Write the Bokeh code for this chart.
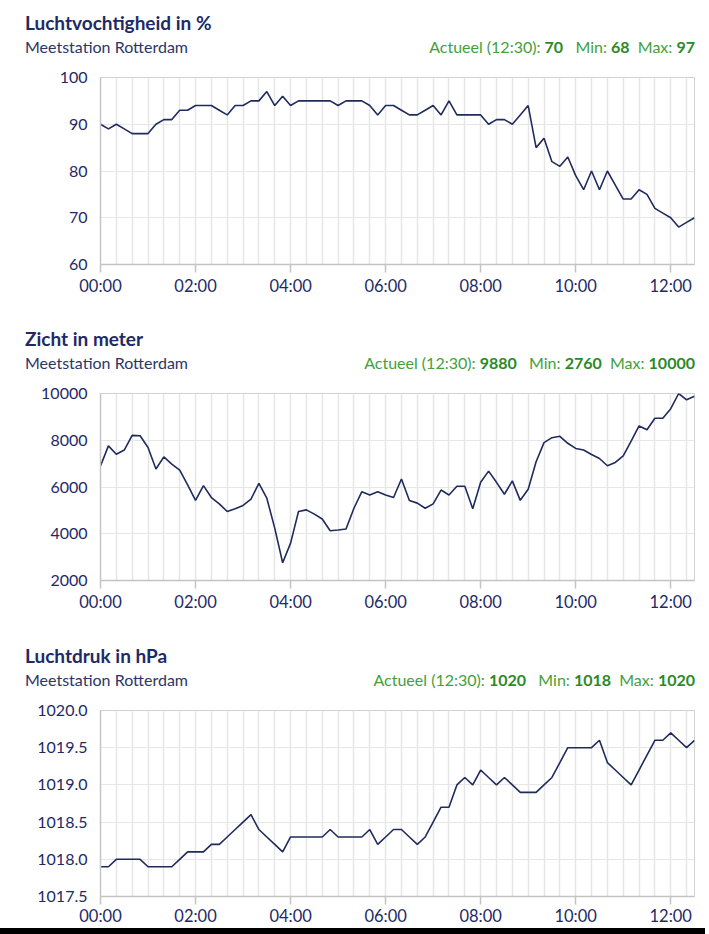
from bokeh.plotting import figure
from bokeh.models import Div, FixedTicker, NumeralTickFormatter, Range1d
from bokeh.layouts import column
from bokeh.embed import file_html
from bokeh.resources import INLINE

# ---------------- data ----------------
station = "Meetstation Rotterdam"
current_time = "12:30"

# readings every 10 minutes from 00:00 to 12:30
minutes = list(range(0, 760, 10))

tick_minutes = [0, 120, 240, 360, 480, 600, 720]
tick_labels = ["00:00", "02:00", "04:00", "06:00", "08:00", "10:00", "12:00"]
grid_minutes = list(range(0, 760, 20))

humidity_title = "Luchtvochtigheid in %"
humidity = [90, 89, 90, 89, 88, 88, 88, 90, 91, 91, 93, 93, 94, 94, 94, 93,
            92, 94, 94, 95, 95, 97, 94, 96, 94, 95, 95, 95, 95, 95, 94, 95,
            95, 95, 94, 92, 94, 94, 93, 92, 92, 93, 94, 92, 95, 92, 92, 92,
            92, 90, 91, 91, 90, 92, 94, 85, 87, 82, 81, 83, 79, 76, 80, 76,
            80, 77, 74, 74, 76, 75, 72, 71, 70, 68, 69, 70]
humidity_stats = ("70", "68", "97")
humidity_ticks = [60, 70, 80, 90, 100]

visibility_title = "Zicht in meter"
visibility = [6900, 7760, 7400, 7580, 8210, 8190, 7690, 6770, 7290, 6980,
              6720, 6090, 5430, 6060, 5550, 5280, 4950, 5070, 5210, 5480,
              6160, 5520, 4240, 2760, 3600, 4950, 5020, 4840, 4630, 4130,
              4160, 4200, 5090, 5800, 5660, 5800, 5660, 5550, 6340, 5420,
              5310, 5090, 5280, 5870, 5660, 6030, 6030, 5070, 6200, 6680,
              6200, 5690, 6260, 5430, 5900, 7080, 7900, 8110, 8170, 7870,
              7650, 7580, 7390, 7220, 6910, 7050, 7330, 7960, 8610, 8450,
              8940, 8940, 9350, 10000, 9730, 9880]
visibility_stats = ("9880", "2760", "10000")
visibility_ticks = [2000, 4000, 6000, 8000, 10000]

pressure_title = "Luchtdruk in hPa"
pressure = [1017.9, 1017.9, 1018.0, 1018.0, 1018.0, 1018.0, 1017.9, 1017.9,
            1017.9, 1017.9, 1018.0, 1018.1, 1018.1, 1018.1, 1018.2, 1018.2,
            1018.3, 1018.4, 1018.5, 1018.6, 1018.4, 1018.3, 1018.2, 1018.1,
            1018.3, 1018.3, 1018.3, 1018.3, 1018.3, 1018.4, 1018.3, 1018.3,
            1018.3, 1018.3, 1018.4, 1018.2, 1018.3, 1018.4, 1018.4, 1018.3,
            1018.2, 1018.3, 1018.5, 1018.7, 1018.7, 1019.0, 1019.1, 1019.0,
            1019.2, 1019.1, 1019.0, 1019.1, 1019.0, 1018.9, 1018.9, 1018.9,
            1019.0, 1019.1, 1019.3, 1019.5, 1019.5, 1019.5, 1019.5, 1019.6,
            1019.3, 1019.2, 1019.1, 1019.0, 1019.2, 1019.4, 1019.6, 1019.6,
            1019.7, 1019.6, 1019.5, 1019.6]
pressure_stats = ("1020", "1018", "1020")
pressure_ticks = [1017.5, 1018.0, 1018.5, 1019.0, 1019.5, 1020.0]

# ---------------- style ----------------
FONT = "Lato"
NAVY = "#1e2a66"
LINE = "#1f2b5c"
GREEN = "#43a03c"
GREEN_B = "#2c8a25"
GRID = "#e6e6e6"
AXIS = "#c4c4c4"
W = 696
HEAD_H = 62


def header(title, stats):
    cur, mn, mx = stats
    html = (
        f'<div style="position:relative;width:{W}px;height:{HEAD_H}px;font-family:{FONT},sans-serif;">'
        f'<div style="position:absolute;left:25px;top:9px;font-size:19px;font-weight:bold;'
        f'color:{NAVY};white-space:nowrap;">{title}</div>'
        f'<div style="position:absolute;left:25px;top:36px;font-size:16px;color:#2a3668;'
        f'white-space:nowrap;">{station}</div>'
        f'<div style="position:absolute;right:1px;top:36px;font-size:16px;color:{GREEN};'
        f'white-space:nowrap;">Actueel ({current_time}):&nbsp;<b style="color:{GREEN_B}">{cur}</b>'
        f'&nbsp;&nbsp; Min:&nbsp;<b style="color:{GREEN_B}">{mn}</b>'
        f'&nbsp;&nbsp;Max:&nbsp;<b style="color:{GREEN_B}">{mx}</b></div>'
        '</div>'
    )
    return Div(text=html, width=W, height=HEAD_H, margin=(0, 0, 0, 0))


def chart(values, ticks, y0, y1, height, mbb, standoff=3, fmt=None):
    p = figure(width=W, height=height, x_range=Range1d(0, 750), y_range=Range1d(y0, y1),
               output_backend="svg", toolbar_location=None,
               min_border_left=100, min_border_right=2, min_border_top=15,
               min_border_bottom=mbb)
    p.line(minutes, values, line_color=LINE, line_width=1.6)

    p.outline_line_color = "#d2d2d2"
    p.background_fill_color = "white"
    p.border_fill_color = "white"

    xa = p.xaxis[0]
    xa.ticker = FixedTicker(ticks=tick_minutes, minor_ticks=[])
    xa.major_label_overrides = dict(zip(tick_minutes, tick_labels))
    xa.axis_line_color = AXIS
    xa.axis_line_width = 1.5
    xa.major_tick_line_color = AXIS
    xa.major_tick_line_width = 1.5
    xa.major_tick_out = 8
    xa.major_tick_in = 0
    xa.minor_tick_out = 0
    xa.major_label_standoff = standoff
    xa.major_label_text_font = FONT
    xa.major_label_text_font_size = "16.5px"
    xa.major_label_text_color = NAVY

    ya = p.yaxis[0]
    ya.ticker = FixedTicker(ticks=ticks, minor_ticks=[])
    if fmt:
        ya.formatter = NumeralTickFormatter(format=fmt)
    ya.axis_line_color = AXIS
    ya.axis_line_width = 1.5
    ya.major_tick_out = 0
    ya.major_tick_in = 0
    ya.minor_tick_out = 0
    ya.major_label_standoff = 13
    ya.major_label_text_font = FONT
    ya.major_label_text_font_size = "16px"
    ya.major_label_text_color = NAVY

    p.xgrid.ticker = FixedTicker(ticks=grid_minutes)
    p.xgrid.grid_line_color = GRID
    p.xgrid.grid_line_width = 1.5
    p.ygrid.grid_line_color = GRID
    p.ygrid.grid_line_width = 1
    return p


p1 = chart(humidity, humidity_ticks, 60, 100, 254, 52)
p2 = chart(visibility, visibility_ticks, 2000, 10000, 255, 53)
p3 = chart(pressure, pressure_ticks, 1017.5, 1020.0, 233, 31, standoff=1, fmt="0.0")

bottom_bar = Div(text="", width=705, height=6, margin=(0, 0, 0, 0),
                 styles={"background-color": "#000000"})

layout = column(header(humidity_title, humidity_stats), p1,
                header(visibility_title, visibility_stats), p2,
                header(pressure_title, pressure_stats), p3,
                bottom_bar,
                spacing=0)

open("out.html", "w").write(file_html(layout, INLINE))
